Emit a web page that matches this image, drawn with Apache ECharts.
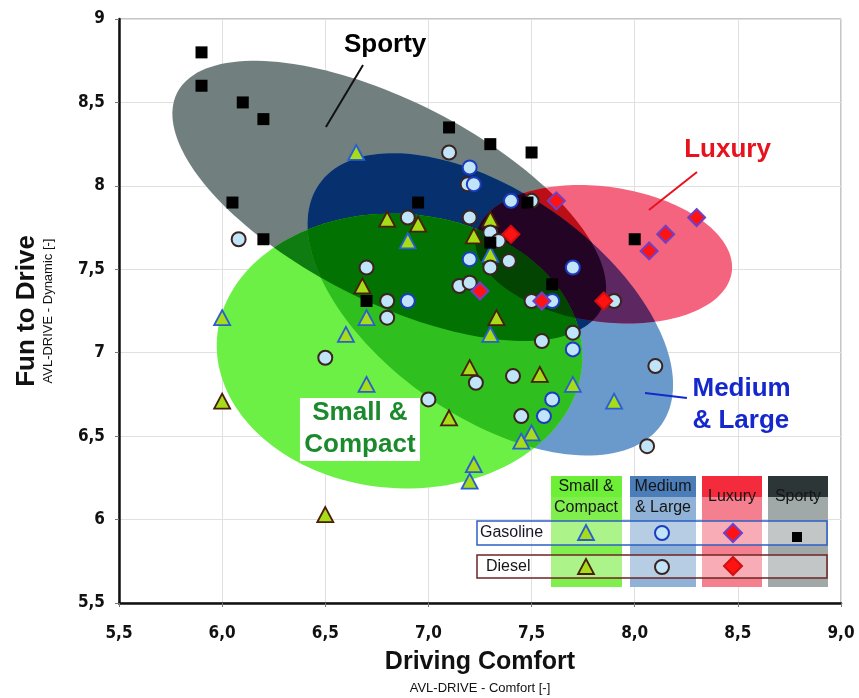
<!DOCTYPE html>
<html>
<head>
<meta charset="utf-8">
<title>Fun to Drive vs Driving Comfort</title>
<script src="https://cdn.jsdelivr.net/npm/echarts@6/dist/echarts.min.js"></script>
<style>
  html, body { margin: 0; padding: 0; background: #ffffff; }
  #chart { width: 859px; height: 698px; }
</style>
</head>
<body>
<div id="chart"></div>
<script>
// ---- Axis ticks ----
const comfortTickLabels = ['5,5', '6,0', '6,5', '7,0', '7,5', '8,0', '8,5', '9,0'];
const dynamicTickLabels = ['5,5', '6', '6,5', '7', '7,5', '8', '8,5', '9'];

// ---- Vehicle ratings: [comfort, dynamic] ----
const smallCompactGasoline = [[6.65, 8.2], [6.9, 7.67], [7.3, 7.59], [6.0, 7.21], [6.7, 7.21], [6.6, 7.11], [7.3, 7.11],
  [6.7, 6.81], [7.22, 6.33], [7.2, 6.23], [7.7, 6.81], [7.9, 6.71], [7.5, 6.52], [7.45, 6.47]];
const smallCompactDiesel = [[6.8, 7.8], [6.95, 7.77], [7.22, 7.7], [7.3, 7.8], [6.68, 7.4], [7.33, 7.21], [7.2, 6.91],
  [6.0, 6.71], [7.1, 6.61], [6.5, 6.03], [7.54, 6.87]];
const mediumLargeGasoline = [[7.2, 8.11], [7.22, 8.01], [7.2, 7.56], [7.4, 7.91], [7.7, 7.51], [6.9, 7.31], [7.6, 7.31],
  [7.7, 7.02], [7.6, 6.72], [7.56, 6.62]];
const mediumLargeDiesel = [[7.1, 8.2], [7.19, 8.01], [7.2, 7.81], [6.9, 7.81], [6.7, 7.51], [6.08, 7.68], [7.5, 7.91],
  [7.3, 7.72], [7.34, 7.67], [7.3, 7.51], [7.39, 7.55], [7.15, 7.4], [7.2, 7.42], [7.5, 7.31], [7.9, 7.31], [6.8, 7.31],
  [6.8, 7.21], [6.5, 6.97], [7.0, 6.72], [7.23, 6.82], [7.7, 7.12], [7.55, 7.07], [7.41, 6.86], [7.45, 6.62],
  [8.1, 6.92], [8.06, 6.44]];
const luxuryGasoline = [[7.62, 7.91], [8.3, 7.81], [8.15, 7.71], [8.07, 7.61], [7.25, 7.37], [7.55, 7.31]];
const luxuryDiesel = [[7.4, 7.71], [7.85, 7.31]];
const sportyGasoline = [[5.9, 8.8], [5.9, 8.6], [6.1, 8.5], [6.2, 8.4], [7.1, 8.35], [7.3, 8.25], [7.5, 8.2], [6.05, 7.9],
  [6.2, 7.68], [6.95, 7.9], [7.48, 7.9], [7.3, 7.66], [6.7, 7.31], [7.6, 7.41], [8.0, 7.68]];

// ---- Segment clusters: centre and two conjugate half-axes, all in axis units ----
const clusterNames = ['Sporty', 'Medium & Large', 'Luxury', 'Small & Compact'];
const clusterCenters = [[6.81, 7.91], [7.30, 7.29], [7.85, 7.59], [6.86, 7.01]];
const clusterAxisU = [[1.028, -0.648], [0.83, -0.72], [0.62, -0.11], [0.885, -0.077]];
const clusterAxisV = [[-0.22, -0.534], [-0.31, -0.55], [-0.05, -0.40], [-0.047, -0.82]];

// Fill of every overlap, keyed by bit mask (1 Sporty, 2 Medium, 4 Luxury, 8 Small)
const overlapColors = {
  1: '#71807f', 2: '#6a9acb', 4: '#f5647f', 8: '#6cf046',
  3: '#07306f', 5: '#bb0f18', 6: '#5d2861', 9: '#0f7c12', 10: '#2fbf1f', 12: '#3a7a20',
  7: '#230425', 11: '#027202', 13: '#0a4c0a', 14: '#12520f',
  15: '#034403'
};

// ---- Cluster call-outs: text anchor and leader line ----
const calloutTexts = ['Sporty', 'Luxury', 'Medium\n& Large', 'Small &\nCompact'];
const calloutAnchors = [[6.79, 8.845], [8.45, 8.215], [8.28, 6.69], [6.668, 6.543]];
const calloutLines = [[[6.683, 8.724], [6.503, 8.353]], [[8.302, 8.083], [8.069, 7.855]], [[8.253, 6.729], [8.05, 6.759]], null];

const FONT = "'Liberation Sans', Arial, Helvetica, sans-serif";
const NARROW = "'Liberation Sans Narrow', 'Arial Narrow', 'DejaVu Sans Condensed', 'Liberation Sans', Arial, sans-serif";

// ---------- geometry helpers ----------
function ellipsePixels(api, k) {
  const pts = [];
  const c = clusterCenters[k], u = clusterAxisU[k], v = clusterAxisV[k];
  const n = 160;
  for (let i = 0; i < n; i++) {
    const t = (i / n) * Math.PI * 2;
    const ct = Math.cos(t), st = Math.sin(t);
    pts.push(api.coord([c[0] + ct * u[0] + st * v[0], c[1] + ct * u[1] + st * v[1]]));
  }
  return pts;
}

function signedArea(poly) {
  let a = 0;
  for (let i = 0; i < poly.length; i++) {
    const p = poly[i], q = poly[(i + 1) % poly.length];
    a += p[0] * q[1] - q[0] * p[1];
  }
  return a;
}

// Sutherland-Hodgman: clip a polygon by a convex polygon
function clipPolygon(subject, clip) {
  const s = signedArea(clip) > 0 ? 1 : -1;
  let output = subject;
  for (let i = 0; i < clip.length && output.length; i++) {
    const A = clip[i], B = clip[(i + 1) % clip.length];
    const side = p => s * ((B[0] - A[0]) * (p[1] - A[1]) - (B[1] - A[1]) * (p[0] - A[0]));
    const input = output;
    output = [];
    for (let j = 0; j < input.length; j++) {
      const cur = input[j], prev = input[(j + input.length - 1) % input.length];
      const dc = side(cur), dp = side(prev);
      if (dc >= 0) {
        if (dp < 0) {
          const t = dp / (dp - dc);
          output.push([prev[0] + t * (cur[0] - prev[0]), prev[1] + t * (cur[1] - prev[1])]);
        }
        output.push(cur);
      } else if (dp >= 0) {
        const t = dp / (dp - dc);
        output.push([prev[0] + t * (cur[0] - prev[0]), prev[1] + t * (cur[1] - prev[1])]);
      }
    }
  }
  return output;
}

function bitCount(m) { let c = 0; while (m) { c += m & 1; m >>= 1; } return c; }

// overlap regions painted from single clusters up to the four-way overlap
const regionMasks = [];
for (let m = 1; m < 16; m++) regionMasks.push(m);
regionMasks.sort((a, b) => bitCount(a) - bitCount(b) || a - b);
const regionData = regionMasks.map(m => {
  const first = [0, 1, 2, 3].find(k => m & (1 << k));
  return [clusterCenters[first][0], clusterCenters[first][1], m];
});

function renderRegion(params, api) {
  const mask = api.value(2);
  let poly = null;
  for (let k = 0; k < 4; k++) {
    if (!(mask & (1 << k))) continue;
    const e = ellipsePixels(api, k);
    poly = poly ? clipPolygon(poly, e) : e;
    if (!poly.length) break;
  }
  if (!poly || poly.length < 3) return null;
  return {
    type: 'polygon',
    shape: { points: poly },
    style: { fill: overlapColors[mask], stroke: null }
  };
}

function renderCallout(params, api) {
  const i = params.dataIndex;
  const p = api.coord([api.value(0), api.value(1)]);
  const children = [];
  const colors = ['#000000', '#e8121f', '#1528cc', '#1b8a2c'];
  if (calloutLines[i]) {
    const a = api.coord(calloutLines[i][0]), b = api.coord(calloutLines[i][1]);
    children.push({
      type: 'line',
      shape: { x1: a[0], y1: a[1], x2: b[0], y2: b[1] },
      style: { stroke: i === 0 ? '#111' : colors[i], lineWidth: 2 }
    });
  }
  if (i === 3) {
    children.push({
      type: 'rect',
      shape: { x: p[0] - 60, y: p[1] - 31, width: 120, height: 63 },
      style: { fill: '#ffffff' }
    });
  }
  const multi = calloutTexts[i].indexOf('\n') >= 0;
  children.push({
    type: 'text',
    style: {
      text: calloutTexts[i],
      x: p[0], y: p[1],
      fill: colors[i],
      font: 'bold 26px ' + FONT,
      align: i === 2 ? 'left' : 'center',
      verticalAlign: 'middle',
      lineHeight: multi ? 32 : 30
    }
  });
  return { type: 'group', children };
}

// ---------- legend table ----------
function legendGraphics() {
  const els = [];
  const top = 476, headBottom = 497, bottom = 587;
  const cols = [
    { x: 551, w: 71, head: '#6def38', body: '#80ee4c', text: ['Small &', 'Compact'], cx: 586 },
    { x: 630, w: 66, head: '#4b7db9', body: '#8fb2d6', text: ['Medium', '& Large'], cx: 663 },
    { x: 702, w: 60, head: '#f42b3c', body: '#f4808f', text: ['Luxury'], cx: 732 },
    { x: 768, w: 60, head: '#2c3636', body: '#a1a8a8', text: ['Sporty'], cx: 798 }
  ];
  cols.forEach(c => {
    els.push({ type: 'rect', shape: { x: c.x, y: top, width: c.w, height: headBottom - top }, style: { fill: c.head }, z: 50 });
    els.push({ type: 'rect', shape: { x: c.x, y: headBottom, width: c.w, height: bottom - headBottom }, style: { fill: c.body }, z: 50 });
    if (c.text.length === 2) {
      els.push({ type: 'text', style: { text: c.text[0], x: c.cx, y: 487, font: '16px ' + FONT, fill: '#151515', align: 'center', verticalAlign: 'middle', textAlign: 'center', textVerticalAlign: 'middle' }, z: 52 });
      els.push({ type: 'text', style: { text: c.text[1], x: c.cx, y: 508, font: '16px ' + FONT, fill: '#151515', align: 'center', verticalAlign: 'middle', textAlign: 'center', textVerticalAlign: 'middle' }, z: 52 });
    } else {
      els.push({ type: 'text', style: { text: c.text[0], x: c.cx, y: 497, font: '16px ' + FONT, fill: '#151515', align: 'center', verticalAlign: 'middle', textAlign: 'center', textVerticalAlign: 'middle' }, z: 52 });
    }
  });
  // fuel rows
  els.push({ type: 'rect', shape: { x: 477, y: 521, width: 350, height: 24 }, style: { fill: 'rgba(255,255,255,0.35)', stroke: '#2d5fc6', lineWidth: 1.5 }, z: 53 });
  els.push({ type: 'rect', shape: { x: 477, y: 555, width: 350, height: 23 }, style: { fill: 'rgba(255,255,255,0.35)', stroke: '#6e2424', lineWidth: 1.5 }, z: 53 });
  els.push({ type: 'text', style: { text: 'Gasoline', x: 480, y: 533, font: '16px ' + FONT, fill: '#151525', align: 'left', verticalAlign: 'middle', textAlign: 'left', textVerticalAlign: 'middle' }, z: 54 });
  els.push({ type: 'text', style: { text: 'Diesel', x: 486, y: 567, font: '16px ' + FONT, fill: '#151515', align: 'left', verticalAlign: 'middle', textAlign: 'left', textVerticalAlign: 'middle' }, z: 54 });
  // key symbols
  const tri = (cx, cy, stroke) => ({ type: 'polygon', shape: { points: [[cx, cy - 8], [cx + 8, cy + 7], [cx - 8, cy + 7]] }, style: { fill: '#a6dc18', stroke, lineWidth: 1.8 }, z: 55 });
  const dia = (cx, cy, stroke) => ({ type: 'polygon', shape: { points: [[cx, cy - 9], [cx + 9, cy], [cx, cy + 9], [cx - 9, cy]] }, style: { fill: '#ff1212', stroke, lineWidth: 2 }, z: 55 });
  els.push(tri(586, 533, '#2a5fd0'));
  els.push(tri(586, 567, '#4a1e0a'));
  els.push({ type: 'circle', shape: { cx: 662, cy: 533, r: 7 }, style: { fill: '#c0e4f8', stroke: '#1b3cc0', lineWidth: 2 }, z: 55 });
  els.push({ type: 'circle', shape: { cx: 662, cy: 567, r: 7 }, style: { fill: '#c0e4f8', stroke: '#3b2420', lineWidth: 2 }, z: 55 });
  els.push(dia(733, 533, '#7040c8'));
  els.push(dia(733, 566, '#d01010'));
  els.push({ type: 'rect', shape: { x: 792, y: 532, width: 10, height: 10 }, style: { fill: '#000' }, z: 55 });
  return els;
}

// ---------- axis titles ----------
const titleGraphics = [
  { type: 'text', x: 480, y: 662, style: { text: 'Driving Comfort', font: 'bold 25px ' + FONT, fill: '#111', align: 'center', verticalAlign: 'middle', textAlign: 'center', textVerticalAlign: 'middle' } },
  { type: 'text', x: 480, y: 688, style: { text: 'AVL-DRIVE - Comfort [-]', font: '13px ' + FONT, fill: '#111', align: 'center', verticalAlign: 'middle', textAlign: 'center', textVerticalAlign: 'middle' } },
  { type: 'text', x: 27, y: 311, rotation: Math.PI / 2, style: { text: 'Fun to Drive', font: 'bold 26px ' + FONT, fill: '#111', align: 'center', verticalAlign: 'middle', textAlign: 'center', textVerticalAlign: 'middle' } },
  { type: 'text', x: 48, y: 311, rotation: Math.PI / 2, style: { text: 'AVL-DRIVE - Dynamic [-]', font: '13px ' + FONT, fill: '#111', align: 'center', verticalAlign: 'middle', textAlign: 'center', textVerticalAlign: 'middle' } }
];

function markerSeries(name, data, symbol, size, fill, stroke, lw, z) {
  return {
    name, type: 'scatter', data, symbol, symbolSize: size, z,
    itemStyle: { color: fill, borderColor: stroke, borderWidth: lw, opacity: 1 },
    emphasis: { disabled: true }, silent: true
  };
}

const chart = echarts.init(document.getElementById('chart'), null, { renderer: 'canvas' });
chart.setOption({
  animation: false,
  backgroundColor: '#ffffff',
  grid: { left: 119, right: 18, top: 19, bottom: 95, show: true, borderColor: '#8c8c8c', borderWidth: 1, backgroundColor: 'transparent' },
  xAxis: {
    type: 'value', min: 5.5, max: 9, interval: 0.5,
    axisLine: { show: true, onZero: false, lineStyle: { color: '#111', width: 2.5 } },
    axisTick: { show: true, length: 4, lineStyle: { color: '#777' } },
    splitLine: { show: true, lineStyle: { color: '#e0e0e0', width: 1 } },
    axisLabel: {
      formatter: v => comfortTickLabels[Math.round((v - 5.5) / 0.5)],
      fontFamily: NARROW, fontWeight: 'bold', fontSize: 17, color: '#111', margin: 22
    }
  },
  yAxis: {
    type: 'value', min: 5.5, max: 9, interval: 0.5,
    axisLine: { show: true, onZero: false, lineStyle: { color: '#111', width: 2.5 } },
    axisTick: { show: true, length: 4, lineStyle: { color: '#777' } },
    splitLine: { show: true, lineStyle: { color: '#e0e0e0', width: 1 } },
    axisLabel: {
      formatter: v => dynamicTickLabels[Math.round((v - 5.5) / 0.5)],
      fontFamily: NARROW, fontWeight: 'bold', fontSize: 17, color: '#111', margin: 14
    }
  },
  graphic: { elements: legendGraphics().concat(titleGraphics) },
  series: [
    { name: 'clusters', type: 'custom', renderItem: renderRegion, data: regionData, z: 1, silent: true,
      encode: { x: 0, y: 1 } },
    { name: 'callouts', type: 'custom', renderItem: renderCallout, data: calloutAnchors, z: 2, silent: true },
    markerSeries('Small & Compact Gasoline', smallCompactGasoline, 'triangle', [16, 15], '#a6dc18', '#2a5fd0', 1.8, 3),
    markerSeries('Small & Compact Diesel', smallCompactDiesel, 'triangle', [16, 15], '#a6dc18', '#4a1e0a', 1.8, 3),
    markerSeries('Medium & Large Diesel', mediumLargeDiesel, 'circle', 14, '#c0e4f8', '#3b2420', 2, 4),
    markerSeries('Medium & Large Gasoline', mediumLargeGasoline, 'circle', 14, '#c0e4f8', '#1b3cc0', 2, 4),
    markerSeries('Sporty Gasoline', sportyGasoline, 'rect', 12, '#000000', '#000000', 0, 5),
    markerSeries('Luxury Diesel', luxuryDiesel, 'diamond', 17, '#ff1212', '#d01010', 2, 6),
    markerSeries('Luxury Gasoline', luxuryGasoline, 'diamond', 17, '#ff1212', '#7040c8', 2, 6)
  ]
});
</script>
</body>
</html>
